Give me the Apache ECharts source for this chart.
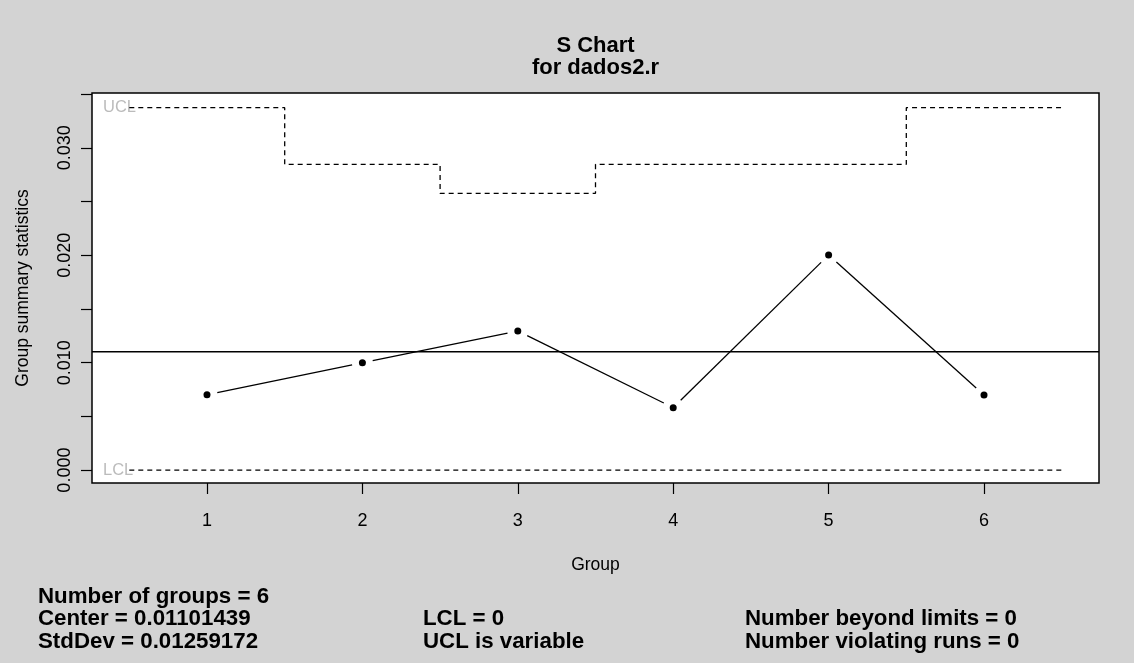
<!DOCTYPE html>
<html>
<head>
<meta charset="utf-8">
<title>S Chart for dados2.r</title>
<script src="https://cdn.jsdelivr.net/npm/echarts@6/dist/echarts.min.js"></script>
<style>
  html, body { margin: 0; padding: 0; background: #d3d3d3; }
  #chart { width: 1134px; height: 663px; }
</style>
</head>
<body>
<div id="chart"></div>
<script>
// Group numbers and the standard deviation of each group
const groups = [1, 2, 3, 4, 5, 6];
const stdDevs = [0.00702, 0.01000, 0.01295, 0.00581, 0.02002, 0.00699];

// Control limits per group (UCL varies with group size)
const uclValues = [0.03373, 0.02846, 0.02576, 0.02846, 0.02846, 0.03373];
const lclValues = [0, 0, 0, 0, 0, 0];
const centerValue = 0.01101439;

// Axis ticks and labels
const xTicks = [1, 2, 3, 4, 5, 6];
const yTicks = [0, 0.005, 0.010, 0.015, 0.020, 0.025, 0.030, 0.035];
const yLabels = [0, 0.010, 0.020, 0.030];

// Summary statistics printed under the plot
const statsCol1 = ['Number of groups = 6', 'Center = 0.01101439', 'StdDev = 0.01259172'];
const statsCol2 = ['LCL = 0', 'UCL is variable'];
const statsCol3 = ['Number beyond limits = 0', 'Number violating runs = 0'];

const FONT = '"Liberation Sans", Arial, Helvetica, sans-serif';
const X_MIN = 0.26, X_MAX = 6.74;
const Y_MIN = -0.0012, Y_MAX = 0.0351;
const GRID = { left: 92, right: 35, top: 93, bottom: 180 };
const PLOT_CENTER_X = GRID.left + (1134 - GRID.left - GRID.right) / 2;

// Step line data: each limit holds from group-0.5 to group+0.5
function stepData(values) {
  const pts = groups.map((g, i) => [g - 0.5, values[i]]);
  pts.push([groups[groups.length - 1] + 0.5, values[values.length - 1]]);
  return pts;
}

// Segments between consecutive points (drawn with a gap around each point)
const segments = [];
for (let i = 0; i < groups.length - 1; i++) {
  segments.push([groups[i], stdDevs[i], groups[i + 1], stdDevs[i + 1]]);
}

const chart = echarts.init(document.getElementById('chart'), null, { renderer: 'canvas' });

const GAP = 10.5;
function renderSegment(params, api) {
  const a = api.coord([api.value(0), api.value(1)]);
  const b = api.coord([api.value(2), api.value(3)]);
  const dx = b[0] - a[0], dy = b[1] - a[1];
  const len = Math.sqrt(dx * dx + dy * dy);
  const ux = dx / len, uy = dy / len;
  return {
    type: 'line',
    shape: {
      x1: a[0] + ux * GAP, y1: a[1] + uy * GAP,
      x2: b[0] - ux * GAP, y2: b[1] - uy * GAP
    },
    style: { stroke: '#000', lineWidth: 1.3 }
  };
}

function statText(lines, left, top0) {
  return lines.map((t, i) => ({
    type: 'text',
    left: left,
    top: top0 + i * 22.3,
    style: { text: t, font: 'bold 22.3px ' + FONT, fill: '#000' }
  }));
}

const option = {
  backgroundColor: '#d3d3d3',
  animation: false,
  grid: Object.assign({
    show: true, backgroundColor: '#ffffff',
    borderColor: '#000', borderWidth: 1.5
  }, GRID),
  xAxis: {
    type: 'value', min: X_MIN, max: X_MAX,
    name: 'Group', nameLocation: 'middle', nameGap: 73,
    nameTextStyle: { fontFamily: FONT, fontSize: 17.5, color: '#000' },
    axisLine: { show: false, onZero: false },
    splitLine: { show: false },
    axisTick: { show: true, customValues: xTicks, length: 11, lineStyle: { color: '#000', width: 1.2 } },
    axisLabel: { customValues: xTicks, fontFamily: FONT, fontSize: 18, color: '#000', margin: 29 }
  },
  yAxis: {
    type: 'value', min: Y_MIN, max: Y_MAX,
    name: 'Group summary statistics', nameLocation: 'middle', nameGap: 60, nameRotate: 90,
    nameTextStyle: { fontFamily: FONT, fontSize: 17.5, color: '#000' },
    axisLine: { show: false, onZero: false },
    splitLine: { show: false },
    axisTick: { show: true, customValues: yTicks, length: 11, lineStyle: { color: '#000', width: 1.2 } },
    axisLabel: {
      customValues: yLabels, rotate: 90, margin: 18,
      fontFamily: FONT, fontSize: 18, color: '#000',
      formatter: v => v.toFixed(3)
    }
  },
  series: [
    {
      name: 'UCL', type: 'line', step: 'end', data: stepData(uclValues),
      symbol: 'none', silent: true,
      lineStyle: { color: '#000', width: 1.3, type: [5, 4] }
    },
    {
      name: 'LCL', type: 'line', step: 'end', data: stepData(lclValues),
      symbol: 'none', silent: true,
      lineStyle: { color: '#000', width: 1.3, type: [5, 4] }
    },
    {
      name: 'CL', type: 'line', data: [[X_MIN, centerValue], [X_MAX, centerValue]],
      symbol: 'none', silent: true,
      lineStyle: { color: '#000', width: 1.3 }
    },
    {
      name: 'segments', type: 'custom', data: segments,
      renderItem: renderSegment, silent: true
    },
    {
      name: 'S', type: 'scatter',
      data: groups.map((g, i) => [g, stdDevs[i]]),
      symbol: 'circle', symbolSize: 7,
      itemStyle: { color: '#000', opacity: 1 }
    },
    {
      name: 'limitLabels', type: 'scatter',
      data: [[X_MIN, uclValues[0], 'UCL'], [X_MIN, lclValues[0], 'LCL']],
      symbolSize: 0,
      label: {
        show: true, position: 'right', distance: 11,
        formatter: p => p.data[2],
        fontFamily: FONT, fontSize: 16.5, color: '#aaaaaa'
      }
    }
  ],
  graphic: [
    { type: 'text', x: PLOT_CENTER_X, y: 35, style: { text: 'S Chart', font: 'bold 22px ' + FONT, fill: '#000', textAlign: 'center' } },
    { type: 'text', x: PLOT_CENTER_X, y: 57, style: { text: 'for dados2.r', font: 'bold 22px ' + FONT, fill: '#000', textAlign: 'center' } }
  ]
    .concat(statText(statsCol1, 38, 586))
    .concat(statText(statsCol2, 423, 608.3))
    .concat(statText(statsCol3, 745, 608.3))
};

chart.setOption(option);
</script>
</body>
</html>
